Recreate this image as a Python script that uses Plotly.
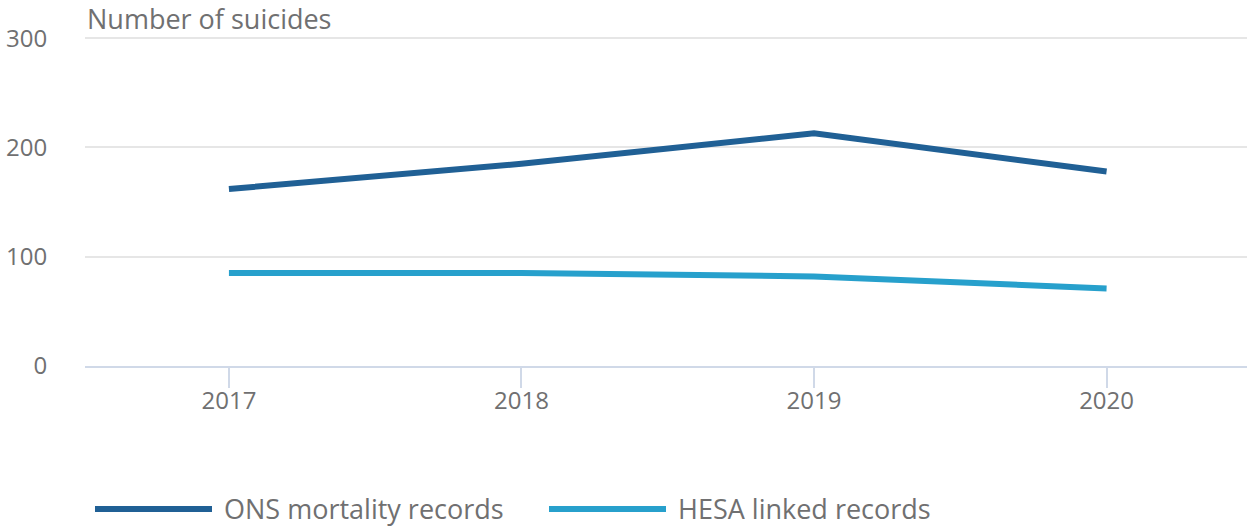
import plotly.graph_objects as go

years = ["2017", "2018", "2019", "2020"]
ons_values = [162, 185, 213, 178]
hesa_values = [85, 85, 82, 71]
series_names = ["ONS mortality records", "HESA linked records"]
y_ticks = [0, 100, 200, 300]

TEXT = "#707071"
fig = go.Figure()
fig.add_trace(go.Scatter(x=years, y=ons_values, mode="lines", name="\u00a0" + series_names[0],
                         line=dict(color="#206095", width=6)))
fig.add_trace(go.Scatter(x=years, y=hesa_values, mode="lines", name="\u00a0" + series_names[1],
                         line=dict(color="#27a0cc", width=6)))

fig.update_layout(
    width=1247, height=526,
    margin=dict(l=85, r=0, t=36, b=160, autoexpand=False),
    paper_bgcolor="white", plot_bgcolor="white",
    font=dict(family="Open Sans", size=24, color=TEXT),
    showlegend=True,
    legend=dict(orientation="h", x=0.0043, xanchor="left", y=-0.5087, yanchor="bottom",
                itemwidth=117, entrywidth=322, entrywidthmode="pixels",
                bgcolor="rgba(0,0,0,0)",
                font=dict(size=27, color=TEXT), itemclick=False),
    xaxis=dict(type="category", range=[-0.492, 3.48], showgrid=False,
               showline=True, linecolor="#d0d9e8", linewidth=2,
               ticks="outside", ticklen=20, tickcolor="#d0d9e8", tickwidth=2,
               ticklabelstandoff=-8,
               tickfont=dict(size=24, color=TEXT), zeroline=False),
    yaxis=dict(range=[0, 302], tickvals=y_ticks, showgrid=True, gridcolor="#e6e6e6",
               gridwidth=2, zeroline=False, ticks="outside", ticklen=32,
               tickcolor="rgba(0,0,0,0)", tickfont=dict(size=24, color=TEXT)),
    annotations=[dict(text="Number of suicides", xref="paper", yref="paper", x=0, y=1.054,
                      xanchor="left", yanchor="middle", showarrow=False,
                      font=dict(size=27, color=TEXT))],
)

fig.write_html("out.html", config={"displayModeBar": False},
               post_script="document.body.style.margin='0';")
